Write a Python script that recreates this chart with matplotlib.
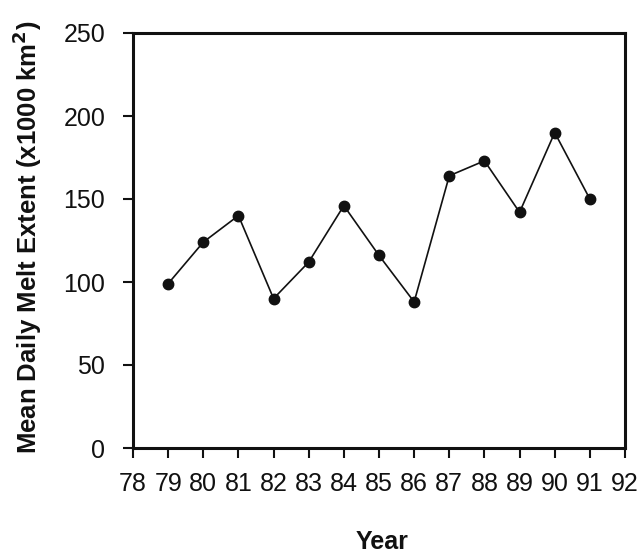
import matplotlib
matplotlib.use("Agg")
import matplotlib.pyplot as plt

years = [79, 80, 81, 82, 83, 84, 85, 86, 87, 88, 89, 90, 91]
melt_extent = [99, 124, 140, 90, 112, 146, 116, 88, 164, 173, 142, 190, 150]
xticks = list(range(78, 93))
yticks = [0, 50, 100, 150, 200, 250]

plt.rcParams['font.family'] = ['Liberation Sans', 'DejaVu Sans']

W, H = 643, 556
fig = plt.figure(figsize=(W / 100, H / 100), dpi=100)
ax = fig.add_axes([133 / W, 1 - 448 / H, (625 - 133) / W, (448 - 33) / H])
ax.plot(years, melt_extent, color='#111111', lw=1.2, marker='o', ms=7.5,
        mfc='#111111', mec='#111111')
ax.set_xlim(78, 92)
ax.set_ylim(0, 250)
ax.set_xticks(xticks)
ax.set_yticks(yticks)
ax.set_xticklabels([str(t) for t in xticks])
for s in ax.spines.values():
    s.set_linewidth(2.2)
    s.set_color('#111111')
ax.tick_params(axis='both', direction='out', length=7, width=1.5,
               labelsize=18, colors='#111111')
ax.tick_params(axis='x', pad=10)
ax.tick_params(axis='y', pad=13)
fig.text(382 / W, 1 - 542 / H, 'Year', fontsize=18, fontweight='bold',
         ha='center', va='center', color='#111111')
fig.text(27 / W, 1 - 237 / H, 'Mean Daily Melt Extent (x1000 km$^\\mathbf{2}$)',
         fontsize=18.5, fontweight='bold', rotation=90,
         ha='center', va='center', color='#111111')
fig.savefig('out.png', dpi=100)
